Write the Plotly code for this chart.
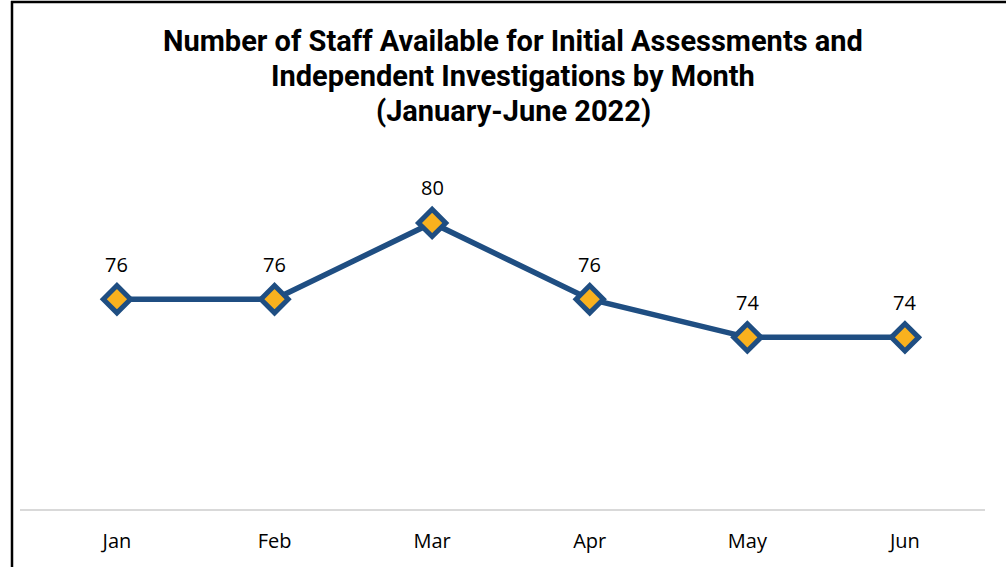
import plotly.graph_objects as go

months = ["Jan", "Feb", "Mar", "Apr", "May", "Jun"]
staff = [76, 76, 80, 76, 74, 74]
title_lines = [
    "Number of Staff Available for Initial Assessments and",
    "Independent Investigations by Month",
    "(January-June 2022)",
]

W, H = 1006, 567
L, R, T, B = 20, 21, 160, 58

fig = go.Figure()
fig.add_trace(go.Scatter(
    x=months, y=staff, mode="lines+markers",
    line=dict(color="#1F4E82", width=5.5),
    marker=dict(symbol="diamond", size=21, color="#F9B11E",
                line=dict(color="#1F4E82", width=5)),
    hoverinfo="skip", showlegend=False,
))

for m, v in zip(months, staff):
    fig.add_annotation(x=m, y=v, text=str(v), showarrow=False,
                       yshift=35, font=dict(family="Open Sans", size=20, color="#000000"))

title_y = [41, 76, 111]
pw, ph = W - L - R, H - T - B
for line, ty in zip(title_lines, title_y):
    fig.add_annotation(xref="paper", yref="paper", x=(513 - L) / pw,
                       y=1 + (T - ty) / ph, text="<b>" + line + "</b>",
                       showarrow=False, xanchor="center", yanchor="middle",
                       font=dict(family="Roboto", size=29, color="#000000"))

# frame lines (top and left)
fig.add_shape(type="line", xref="paper", yref="paper",
              x0=(11 - L) / pw, x1=(W - L) / pw, y0=1 + (T - 2) / ph, y1=1 + (T - 2) / ph,
              line=dict(color="#000000", width=2.5))
fig.add_shape(type="line", xref="paper", yref="paper",
              x0=(12 - L) / pw, x1=(12 - L) / pw, y0=1 + (T - 1) / ph, y1=-B / ph,
              line=dict(color="#000000", width=2.5))

fig.update_layout(
    width=W, height=H,
    margin=dict(l=L, r=R, t=T, b=B, pad=0),
    paper_bgcolor="#FFFFFF", plot_bgcolor="#FFFFFF",
    xaxis=dict(type="category", range=[-0.615, 5.508], showgrid=False, zeroline=False,
               showline=True, linecolor="#D9D9D9", linewidth=2, ticks="",
               ticklabelstandoff=13, fixedrange=True,
               tickfont=dict(family="Open Sans", size=20, color="#000000")),
    yaxis=dict(range=[65, 83.3], showgrid=False, zeroline=False, showticklabels=False,
               showline=False, fixedrange=True),
)

fig.write_html("out.html", config={"displayModeBar": False},
               post_script="document.body.style.margin='0px';")
